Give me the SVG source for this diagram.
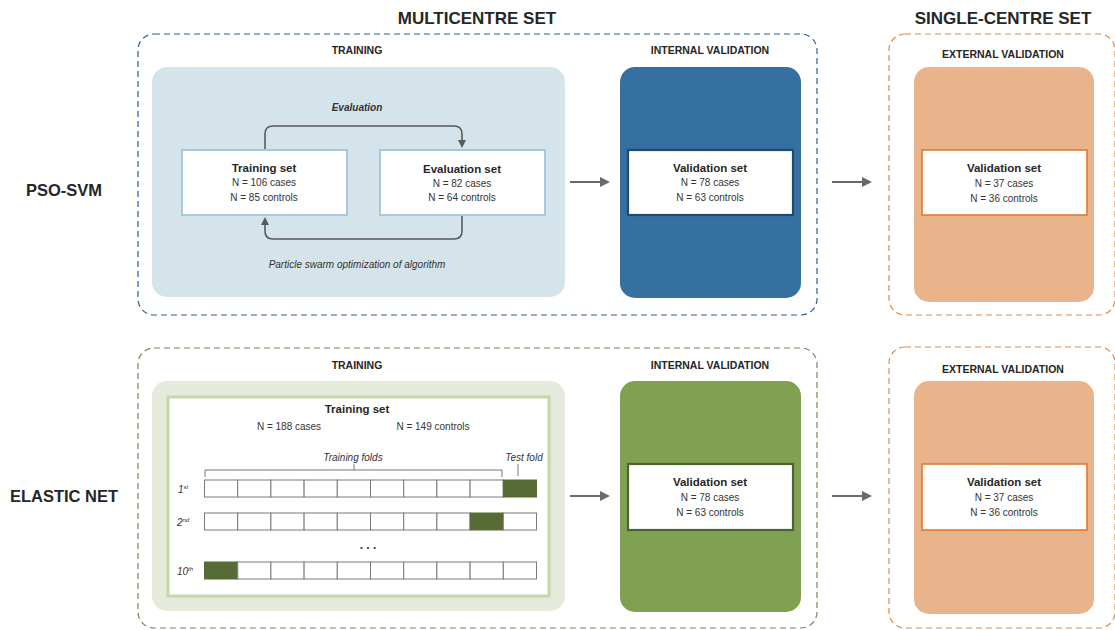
<svg xmlns="http://www.w3.org/2000/svg" width="1115" height="630" viewBox="0 0 1115 630">
<defs>
<marker id="ah" markerWidth="8" markerHeight="8" refX="6" refY="4" orient="auto" markerUnits="userSpaceOnUse"><path d="M0,0 L8,4 L0,8 z" fill="#5a5a5a"/></marker>
<marker id="ah2" markerWidth="10" markerHeight="10" refX="8" refY="5" orient="auto" markerUnits="userSpaceOnUse"><path d="M0,0 L10,5 L0,10 z" fill="#6a6a6a"/></marker>
<style>
text{font-family:"Liberation Sans",Arial,sans-serif;fill:#262626;text-anchor:middle}
.h1{font-size:17px;font-weight:bold}
.h2{font-size:10.5px;font-weight:bold}
.row{font-size:16.5px;font-weight:bold}
.t{font-size:11.5px;font-weight:bold}
.n{font-size:10px;fill:#333}
.i{font-size:10px;font-style:italic;fill:#333}
.cell{fill:#fff;stroke:#7a7a7a;stroke-width:1}
.dk{fill:#566b35;stroke:#566b35;stroke-width:1}
.conn{fill:none;stroke:#5a5a5a;stroke-width:1.6}
.big{fill:none;stroke:#6a6a6a;stroke-width:2}
</style>
</defs>
<rect width="1115" height="630" fill="#fff"/>

<text class="h1" x="477" y="24">MULTICENTRE SET</text>
<text class="h1" x="1003" y="24">SINGLE-CENTRE SET</text>
<text class="row" x="64" y="196">PSO-SVM</text>
<text class="row" x="64" y="502">ELASTIC NET</text>

<g id="multicentre-pso">
<rect x="138" y="34" width="679" height="281" rx="16" fill="none" stroke="#2d5f8f" stroke-width="1.2" stroke-dasharray="6,4"/>
<text class="h2" x="357" y="54">TRAINING</text>
<text class="h2" x="710" y="54">INTERNAL VALIDATION</text>
</g>
<g id="single-pso">
<rect x="889" y="34" width="226" height="281" rx="16" fill="none" stroke="#e08a4a" stroke-width="1.2" stroke-dasharray="6,4"/>
<text class="h2" x="1003" y="58">EXTERNAL VALIDATION</text>
</g>
<g id="multicentre-en">
<rect x="138" y="348" width="679" height="280" rx="16" fill="none" stroke="#8a7f55" stroke-width="1.2" stroke-dasharray="6,4"/>
<text class="h2" x="357" y="369">TRAINING</text>
<text class="h2" x="710" y="369">INTERNAL VALIDATION</text>
</g>
<g id="single-en">
<rect x="889" y="347" width="226" height="281" rx="16" fill="none" stroke="#e08a4a" stroke-width="1.2" stroke-dasharray="6,4"/>
<text class="h2" x="1003" y="373">EXTERNAL VALIDATION</text>
</g>

<g id="pso-training-panel">
<rect x="152" y="67" width="413" height="230" rx="15" fill="#d5e3ea"/>
<text class="i" x="357" y="111" style="font-weight:bold">Evaluation</text>
<text class="i" x="357" y="268">Particle swarm optimization of algorithm</text>
</g>
<g id="pso-training-set">
<rect x="182" y="150" width="165" height="65" fill="#fff" stroke="#a8c8de" stroke-width="2"/>
<text class="t" x="264" y="172">Training set</text>
<text class="n" x="264" y="186">N = 106 cases</text>
<text class="n" x="264" y="201">N = 85 controls</text>
</g>
<g id="pso-evaluation-set">
<rect x="380" y="150" width="165" height="65" fill="#fff" stroke="#a8c8de" stroke-width="2"/>
<text class="t" x="462" y="173">Evaluation set</text>
<text class="n" x="462" y="187">N = 82 cases</text>
<text class="n" x="462" y="201">N = 64 controls</text>
</g>
<g id="pso-internal">
<rect x="620" y="67" width="181" height="231" rx="15" fill="#3570a1"/>
<rect x="628" y="150" width="165" height="65" fill="#fff" stroke="#1f4b6e" stroke-width="2.2"/>
<text class="t" x="710" y="172">Validation set</text>
<text class="n" x="710" y="186">N = 78 cases</text>
<text class="n" x="710" y="201">N = 63 controls</text>
</g>
<g id="pso-external">
<rect x="914" y="67" width="180" height="235" rx="15" fill="#e9b48b"/>
<rect x="922" y="150" width="165" height="65" fill="#fff" stroke="#e07a2f" stroke-width="1.6"/>
<text class="t" x="1004" y="172">Validation set</text>
<text class="n" x="1004" y="187">N = 37 cases</text>
<text class="n" x="1004" y="202">N = 36 controls</text>
</g>

<g id="en-training-panel">
<rect x="152" y="381" width="413" height="230" rx="15" fill="#e6eadb"/>
<rect x="168" y="397" width="381" height="199" fill="#fff" stroke="#c5d6a8" stroke-width="3"/>
<text class="t" x="357" y="413">Training set</text>
<text class="n" x="289" y="430">N = 188 cases</text>
<text class="n" x="433" y="430">N = 149 controls</text>
<text class="i" x="353" y="461">Training folds</text>
<text class="i" x="524" y="461">Test fold</text>
<path d="M205,477 V470 H502 V477 M354,470 V464 M518,464 V476" fill="none" stroke="#666" stroke-width="0.9"/>
<text class="i" x="183" y="493" style="font-size:10px">1<tspan dy="-4" style="font-size:6px">st</tspan></text>
<text class="i" x="183" y="526" style="font-size:10px">2<tspan dy="-4" style="font-size:6px">nd</tspan></text>
<text class="i" x="185" y="575" style="font-size:10px">10<tspan dy="-4" style="font-size:6px">th</tspan></text>
<text class="n" x="368" y="549" style="font-size:12px;font-weight:bold">. . .</text>
<g id="fold-row-1">
<rect class="cell" x="204.5" y="480" width="33.2" height="17"/><rect class="cell" x="237.7" y="480" width="33.2" height="17"/><rect class="cell" x="270.9" y="480" width="33.2" height="17"/><rect class="cell" x="304.1" y="480" width="33.2" height="17"/><rect class="cell" x="337.3" y="480" width="33.2" height="17"/><rect class="cell" x="370.5" y="480" width="33.2" height="17"/><rect class="cell" x="403.7" y="480" width="33.2" height="17"/><rect class="cell" x="436.9" y="480" width="33.2" height="17"/><rect class="cell" x="470.1" y="480" width="33.2" height="17"/><rect class="dk" x="503.3" y="480" width="33.2" height="17"/>
</g>
<g id="fold-row-2">
<rect class="cell" x="204.5" y="513" width="33.2" height="17"/><rect class="cell" x="237.7" y="513" width="33.2" height="17"/><rect class="cell" x="270.9" y="513" width="33.2" height="17"/><rect class="cell" x="304.1" y="513" width="33.2" height="17"/><rect class="cell" x="337.3" y="513" width="33.2" height="17"/><rect class="cell" x="370.5" y="513" width="33.2" height="17"/><rect class="cell" x="403.7" y="513" width="33.2" height="17"/><rect class="cell" x="436.9" y="513" width="33.2" height="17"/><rect class="dk" x="470.1" y="513" width="33.2" height="17"/><rect class="cell" x="503.3" y="513" width="33.2" height="17"/>
</g>
<g id="fold-row-10">
<rect class="dk" x="204.5" y="562" width="33.2" height="17"/><rect class="cell" x="237.7" y="562" width="33.2" height="17"/><rect class="cell" x="270.9" y="562" width="33.2" height="17"/><rect class="cell" x="304.1" y="562" width="33.2" height="17"/><rect class="cell" x="337.3" y="562" width="33.2" height="17"/><rect class="cell" x="370.5" y="562" width="33.2" height="17"/><rect class="cell" x="403.7" y="562" width="33.2" height="17"/><rect class="cell" x="436.9" y="562" width="33.2" height="17"/><rect class="cell" x="470.1" y="562" width="33.2" height="17"/><rect class="cell" x="503.3" y="562" width="33.2" height="17"/>
</g>
</g>
<g id="en-internal">
<rect x="620" y="381" width="181" height="231" rx="15" fill="#80a052"/>
<rect x="628" y="464" width="165" height="66" fill="#fff" stroke="#4d6430" stroke-width="2.2"/>
<text class="t" x="710" y="486">Validation set</text>
<text class="n" x="710" y="501">N = 78 cases</text>
<text class="n" x="710" y="516">N = 63 controls</text>
</g>
<g id="en-external">
<rect x="914" y="381" width="180" height="233" rx="15" fill="#e9b48b"/>
<rect x="922" y="464" width="165" height="66" fill="#fff" stroke="#e07a2f" stroke-width="1.6"/>
<text class="t" x="1004" y="486">Validation set</text>
<text class="n" x="1004" y="501">N = 37 cases</text>
<text class="n" x="1004" y="516">N = 36 controls</text>
</g>

<g id="connectors">
<path class="conn" d="M265,149 V134 Q265,126 273,126 H454 Q462,126 462,134 V146" marker-end="url(#ah)"/>
<path class="conn" d="M462,216 V231 Q462,239 454,239 H273 Q265,239 265,231 V219" marker-end="url(#ah)"/>
<path class="big" d="M570,182 H608" marker-end="url(#ah2)"/>
<path class="big" d="M832,182 H870" marker-end="url(#ah2)"/>
<path class="big" d="M570,496 H608" marker-end="url(#ah2)"/>
<path class="big" d="M832,496 H870" marker-end="url(#ah2)"/>
</g>
</svg>
